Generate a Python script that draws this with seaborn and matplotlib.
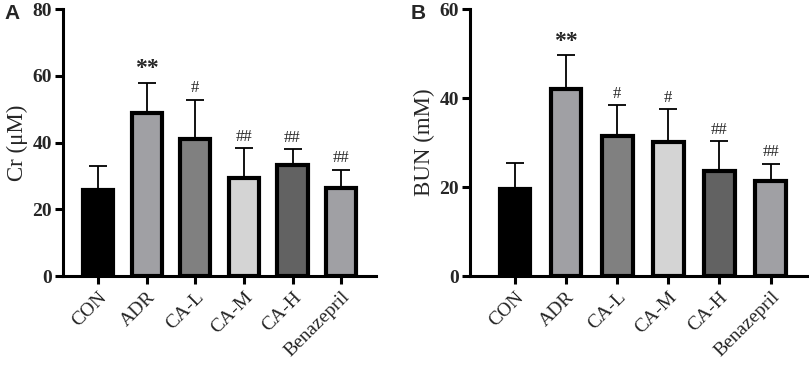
import matplotlib
matplotlib.use("Agg")
import matplotlib.pyplot as plt
import seaborn as sns
import pandas as pd

groups = ["CON", "ADR", "CA-L", "CA-M", "CA-H", "Benazepril"]
cr_mean = [25.8, 48.8, 41.0, 29.4, 33.4, 26.5]
cr_sd = [7.2, 9.2, 11.9, 9.0, 4.6, 5.4]
bun_mean = [19.6, 42.1, 31.5, 30.1, 23.7, 21.4]
bun_sd = [5.8, 7.6, 6.9, 7.5, 6.6, 3.9]
cr_marks = ["", "**", "#", "##", "##", "##"]
bun_marks = ["", "**", "#", "#", "##", "##"]
bar_colors = ["#000000", "#a0a0a4", "#808080", "#d4d4d4", "#626262", "#a0a0a4"]

sns.set_style("ticks")
plt.rcParams["font.family"] = ["Liberation Serif", "DejaVu Serif"]

fig = plt.figure(figsize=(8.09, 3.70), dpi=100)
axA = fig.add_axes([0.078, 0.254, 0.387, 0.721])
axB = fig.add_axes([0.581, 0.254, 0.417, 0.721])


def panel(ax, means, sds, marks, ylabel, yticks, xlim, width, letter):
    ymax = yticks[-1]
    df = pd.DataFrame({"group": groups, "value": means})
    sns.barplot(data=df, x="group", y="value", hue="group", palette=bar_colors,
                legend=False, width=width, edgecolor="black", linewidth=3.0,
                errorbar=None, ax=ax, zorder=3)
    centers = [p.get_x() + p.get_width() / 2 for p in ax.patches]
    ax.errorbar(centers, means, yerr=[[0] * len(sds), sds], fmt="none",
                ecolor="black", elinewidth=1.3, capsize=6.5, capthick=1.3,
                zorder=2)
    for c, m, s, t in zip(centers, means, sds, marks):
        if t:
            fs = 17 if t == "**" else 12
            off = ymax * 0.012
            ax.text(c, m + s + off, t, ha="center", va="bottom",
                    fontsize=fs, fontweight="bold" if t == "**" else "normal")
    ax.set_ylim(0, ymax)
    ax.set_xlim(*xlim)
    ax.set_yticks(yticks)
    ax.set_xlabel("")
    ax.set_ylabel(ylabel, fontsize=16.5, labelpad=3)
    for lab in ax.get_yticklabels():
        lab.set_fontweight("bold")
        lab.set_fontsize(14)
    ax.set_xticks(range(len(groups)))
    ax.set_xticklabels(groups, rotation=45, ha="right", rotation_mode="anchor",
                       fontsize=14)
    ax.tick_params(axis="both", width=2.2, length=6, color="black", pad=2)
    ax.tick_params(axis="x", pad=3)
    for side in ["left", "bottom"]:
        ax.spines[side].set_linewidth(2.2)
        ax.spines[side].set_color("black")
    sns.despine(ax=ax)
    fig.text(ax.get_position().x0 - 0.073, 0.948, letter, fontsize=15,
             fontweight="bold", family="Liberation Sans")


panel(axA, cr_mean, cr_sd, cr_marks, "Cr (\u03bcM)", [0, 20, 40, 60, 80],
      (-0.72, 5.72), 0.62, "A")
panel(axB, bun_mean, bun_sd, bun_marks, "BUN (mM)", [0, 20, 40, 60],
      (-0.88, 5.72), 0.6, "B")

fig.savefig("out.png", dpi=100)
